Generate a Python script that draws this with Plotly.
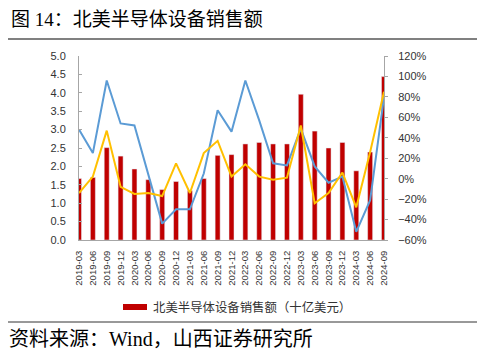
import plotly.graph_objects as go

categories = ["2019-03", "2019-06", "2019-09", "2019-12", "2020-03", "2020-06", "2020-09",
              "2020-12", "2021-03", "2021-06", "2021-09", "2021-12", "2022-03", "2022-06",
              "2022-09", "2022-12", "2023-03", "2023-06", "2023-09", "2023-12", "2024-03",
              "2024-06", "2024-09"]
sales = [1.67, 1.70, 2.51, 2.28, 1.93, 1.64, 1.37, 1.59, 1.34, 1.67, 2.30, 2.32, 2.61, 2.65,
         2.61, 2.61, 3.96, 2.96, 2.50, 2.65, 1.88, 2.39, 4.44]
blue_pct = [48, 25, 96, 54, 52, 3, -44, -30, -30, 5, 67, 46, 96, 57, 15, 13, 49, 12, -4, 2,
            -52, -21, 80]
yellow_pct = [-14, 2, 47, -8, -15, -14, -17, 15, -14, 25, 37, 2, 14, 2, -1, 1, 52, -24, -14,
              6, -28, 26, 85]
bar_name = "北美半导体设备销售额（十亿美元）"
title_text = "图 14：北美半导体设备销售额"
source_text = "资料来源：Wind，山西证券研究所"

RED = "#C00000"
BLUE = "#5B9BD5"
YELLOW = "#FFC000"
SANS = "Liberation Sans, Arial, Noto Sans CJK SC"
SERIF = "Liberation Serif, Times New Roman, Noto Sans CJK SC"

# page body adds an 8px margin; work in reference pixel coords minus this offset
OFF = 8
W, H = 485 - OFF, 362 - OFF
L, R, T, B = 79 - OFF, 384 - OFF, 56 - OFF, 240 - OFF

fig = go.Figure()
fig.add_trace(go.Bar(x=categories, y=sales, name=bar_name, marker_color=RED,
                     width=0.36, showlegend=False))
fig.add_trace(go.Scatter(x=categories, y=blue_pct, mode="lines", yaxis="y2",
                         line=dict(color=BLUE, width=2), showlegend=False))
fig.add_trace(go.Scatter(x=categories, y=yellow_pct, mode="lines", yaxis="y2",
                         line=dict(color=YELLOW, width=2), showlegend=False))


def px(x):
    return (x - OFF - L) / (R - L)


def py(y):
    return (B - (y - OFF)) / (B - T)


fig.update_layout(
    width=W, height=H,
    margin=dict(l=L, r=W - R, t=T, b=H - B),
    paper_bgcolor="white", plot_bgcolor="white",
    xaxis=dict(type="category", range=[0, 22], tickangle=-90, showline=True,
               linecolor="#A6A6A6", linewidth=1, ticks="", showgrid=False,
               tickfont=dict(family=SANS, size=9.5, color="#333"), ticklabelstandoff=6),
    yaxis=dict(range=[0, 5], dtick=0.5, tickformat=".1f", showline=True,
               linecolor="#A6A6A6", linewidth=1, ticks="inside", ticklen=3,
               tickcolor="#A6A6A6", showgrid=False, zeroline=False,
               tickfont=dict(family=SANS, size=11, color="#333"), ticklabelstandoff=10),
    yaxis2=dict(range=[-60, 120], dtick=20, ticksuffix="%", overlaying="y", side="right",
                showline=True, linecolor="#A6A6A6", linewidth=1, ticks="outside",
                ticklen=3, tickcolor="#A6A6A6", showgrid=False, zeroline=False,
                tickfont=dict(family=SANS, size=11, color="#333"), ticklabelstandoff=8),
    showlegend=False,
)

# title
fig.add_annotation(xref="paper", yref="paper", x=px(9), y=py(19), text=title_text,
                   showarrow=False, xanchor="left", yanchor="middle",
                   font=dict(family=SERIF, size=19, color="#000"))

# header / footer rules
fig.add_shape(type="line", xref="paper", yref="paper", x0=px(5), x1=px(480),
              y0=py(39), y1=py(39), line=dict(color="#808080", width=2))
fig.add_shape(type="line", xref="paper", yref="paper", x0=px(5), x1=px(480),
              y0=py(322), y1=py(322), line=dict(color="#333", width=1))

# legend swatch and label
fig.add_shape(type="rect", xref="paper", yref="paper", x0=px(123), x1=px(147),
              y0=py(310), y1=py(304), fillcolor=RED, line=dict(width=0))
fig.add_annotation(xref="paper", yref="paper", x=px(151), y=py(307), text=bar_name,
                   showarrow=False, xanchor="left", yanchor="middle",
                   font=dict(family=SANS, size=12.4, color="#333"))

# source
fig.add_annotation(xref="paper", yref="paper", x=px(7), y=py(339), text=source_text,
                   showarrow=False, xanchor="left", yanchor="middle",
                   font=dict(family=SERIF, size=20, color="#000"))

fig.write_html("out.html")
